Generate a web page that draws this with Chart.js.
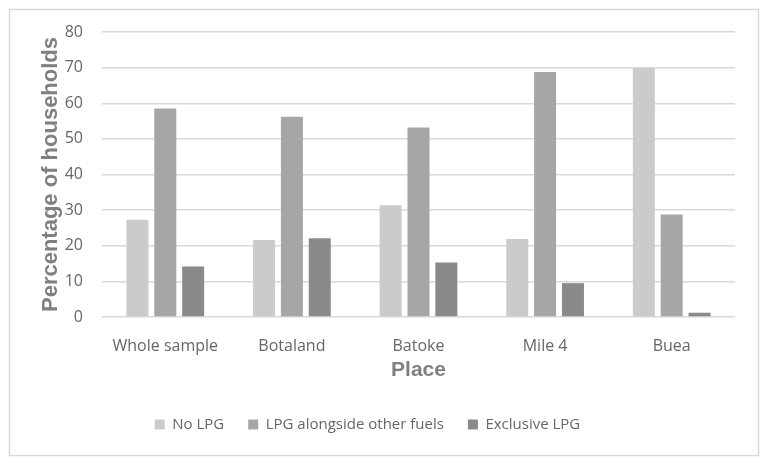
<!DOCTYPE html>
<html>
<head>
<meta charset="utf-8">
<script src="https://cdn.jsdelivr.net/npm/chart.js@4"></script>
<style>
  html, body { margin: 0; padding: 0; background: #fff; }
  #wrap { width: 769px; height: 466px; }
</style>
</head>
<body>
<div id="wrap"><canvas id="chart" width="769" height="466"></canvas></div>
<script>
// values
var places = ['Whole sample', 'Botaland', 'Batoke', 'Mile 4', 'Buea'];
var noLpg = [27.3, 21.6, 31.4, 21.9, 70.0];
var lpgMixed = [58.5, 56.2, 53.2, 68.8, 28.8];
var lpgOnly = [14.2, 22.1, 15.3, 9.5, 1.2];
var yTicks = [0, 10, 20, 30, 40, 50, 60, 70, 80];

var tickFont = { family: "'Open Sans', sans-serif", size: 16 };
var legendFont = { family: "'Open Sans', sans-serif", size: 15 };
var titleFont = { family: "'Liberation Sans', Arial, sans-serif", size: 21, weight: 'bold' };

// light grey frame round the whole picture
var frame = {
    id: 'frame',
    beforeDraw: function(chart){
        var c = chart.ctx;
        c.save();
        c.fillStyle = '#fff';
        c.fillRect(0, 0, chart.width, chart.height);
        c.strokeStyle = '#d9d9d9';
        c.lineWidth = 1.5;
        c.strokeRect(9.5, 9.5, 749, 446);
        c.restore();
    }
};

var ctx = document.getElementById('chart').getContext('2d');
var mychart = new Chart(ctx, {
    type: 'bar',
    data: {
        labels: places,
        datasets: [
            { label: 'No LPG', data: noLpg, backgroundColor: '#cbcbcb' },
            { label: 'LPG alongside other fuels', data: lpgMixed, backgroundColor: '#a6a6a6' },
            { label: 'Exclusive LPG', data: lpgOnly, backgroundColor: '#8a8a8a' }
        ]
    },
    options: {
        responsive: false,
        animation: false,
        devicePixelRatio: 1,
        layout: { padding: { top: 32, right: 34, bottom: 24, left: 0 } },
        datasets: { bar: { categoryPercentage: 0.66, barPercentage: 0.79 } },
        plugins: {
            tooltip: { enabled: false },
            legend: {
                position: 'bottom',
                labels: {
                    boxWidth: 10, boxHeight: 10, padding: 24,
                    color: '#666666', font: legendFont
                }
            }
        },
        scales: {
            x: {
                grid: { display: false },
                border: { display: false },
                ticks: { color: '#666666', font: tickFont, padding: 12, maxRotation: 0 },
                title: { display: true, text: 'Place', color: '#808080', font: titleFont, padding: { top: 0, bottom: 10 } },
                afterFit: function(s){ s.height = 76; }
            },
            y: {
                min: 0, max: 80,
                afterBuildTicks: function(s){ s.ticks = yTicks.map(function(v){ return { value: v }; }); },
                grid: { color: '#d9d9d9', lineWidth: 1.5, drawTicks: false },
                border: { display: false },
                ticks: { color: '#666666', font: tickFont, padding: 19 },
                title: { display: true, text: 'Percentage of households', color: '#808080',
                         font: { family: "'Liberation Sans', Arial, sans-serif", size: 22, weight: 'bold' },
                         padding: { top: 38, bottom: 0 } },
                afterFit: function(s){ s.width = 102; }
            }
        }
    },
    plugins: [frame]
});
</script>
</body>
</html>
